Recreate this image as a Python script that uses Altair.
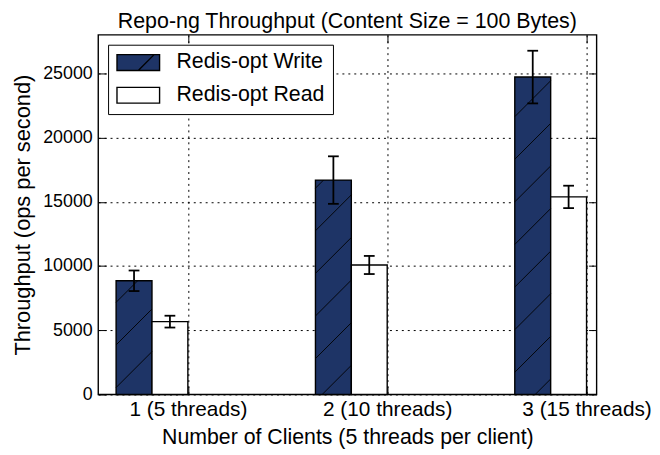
import altair as alt
import pandas as pd

# ---------------- data ----------------
clients = [1, 2, 3]
categories = ["1 (5 threads)", "2 (10 threads)", "3 (15 threads)"]
series = ["Redis-opt Write", "Redis-opt Read"]
write_vals = [8850, 16690, 24710]
write_err = [800, 1850, 2050]
read_vals = [5670, 10080, 15380]
read_err = [460, 705, 872]
y_ticks = [0, 5000, 10000, 15000, 20000, 25000]

title_text = "Repo-ng Throughput (Content Size = 100 Bytes)"
x_title = "Number of Clients (5 threads per client)"
y_title = "Throughput (ops per second)"

# ---------------- styling constants ----------------
W, H = 503, 363
X_DOM = [0.55, 3.05]
Y_DOM = [0, 28000]
BAR_W = 0.18
NAVY = "#1e3466"
FONT = "Liberation Sans"
CAP = 0.027

rows = []
for i, c in enumerate(clients):
    for s, vals, errs, off, col in [
        (series[0], write_vals, write_err, -2 * BAR_W, NAVY),
        (series[1], read_vals, read_err, -BAR_W, "white"),
    ]:
        x0 = c + off
        rows.append(dict(series=s, x0=x0, x1=x0 + BAR_W, xc=x0 + BAR_W / 2,
                         value=vals[i], base=0, lo=vals[i] - errs[i], hi=vals[i] + errs[i],
                         cl=x0 + BAR_W / 2 - CAP, cr=x0 + BAR_W / 2 + CAP,
                         fillc=col))
df = pd.DataFrame(rows)

# hatch segments ("/" pattern) inside write bars
px_per_x = W / (X_DOM[1] - X_DOM[0])
px_per_y = H / (Y_DOM[1] - Y_DOM[0])
slope = px_per_x / px_per_y
spacing = 43 / px_per_y
phase = 2460
hrows = []
for _, r in df[df.series == series[0]].iterrows():
    for n in range(-40, 40):
        b = phase + n * spacing
        x_at0 = X_DOM[0] + (0 - b) / slope
        x_atv = X_DOM[0] + (r.value - b) / slope
        xa = max(r.x0, x_at0)
        xb = min(r.x1, x_atv)
        if xa < xb:
            hrows.append(dict(hx=xa, hx2=xb,
                              hy=slope * (xa - X_DOM[0]) + b,
                              hy2=slope * (xb - X_DOM[0]) + b))
hdf = pd.DataFrame(hrows)

xs = alt.Scale(domain=X_DOM, nice=False, zero=False, padding=0)
ys = alt.Scale(domain=Y_DOM, nice=False, zero=False, padding=0)

label_expr = "[" + ",".join("'" + c + "'" for c in categories) + "][datum.value - 1]"

bars = alt.Chart(df).mark_bar(stroke="black", strokeWidth=1.4, orient="vertical").encode(
    x=alt.X("x0:Q", scale=xs, axis=alt.Axis(
        orient="bottom", values=clients, labelExpr=label_expr, grid=True,
        ticks=False, tickSize=0, domain=False, title=x_title, labelFontSize=21,
        titleFontSize=21.5, labelPadding=4, titlePadding=7, titleFontWeight="normal",
        gridDash=[2, 4], gridColor="black", gridWidth=1, labelColor="black",
        titleColor="black")),
    x2="x1:Q",
    y=alt.Y("value:Q", scale=ys, axis=alt.Axis(
        orient="left", values=y_ticks, format="d", grid=True, ticks=False, tickSize=0,
        domain=False, title=y_title, labelFontSize=18, titleFontSize=22,
        labelPadding=6, titlePadding=8, titleFontWeight="normal",
        gridDash=[2, 4], gridColor="black", gridWidth=1, labelColor="black",
        titleColor="black")),
    y2="base:Q",
    fill=alt.Fill("fillc:N", scale=None),
)

hatch = alt.Chart(hdf).mark_rule(color="black", strokeWidth=0.9).encode(
    x=alt.X("hx:Q", scale=xs, axis=None), x2="hx2:Q",
    y=alt.Y("hy:Q", scale=ys, axis=None), y2="hy2:Q",
)

err = alt.Chart(df).mark_rule(color="black", strokeWidth=1.8).encode(
    x=alt.X("xc:Q", scale=xs, axis=None),
    y=alt.Y("lo:Q", scale=ys, axis=None), y2="hi:Q",
)
cap_hi = alt.Chart(df).mark_rule(color="black", strokeWidth=1.8).encode(
    x=alt.X("cl:Q", scale=xs, axis=None), x2="cr:Q",
    y=alt.Y("hi:Q", scale=ys, axis=None),
)
cap_lo = alt.Chart(df).mark_rule(color="black", strokeWidth=1.8).encode(
    x=alt.X("cl:Q", scale=xs, axis=None), x2="cr:Q",
    y=alt.Y("lo:Q", scale=ys, axis=None),
)

path_write = "M-1,-0.372L1,-0.372L1,0.372L-1,0.372Z M0,0.372L0.744,-0.372"
path_read = "M-1,-0.372L1,-0.372L1,0.372L-1,0.372Z"

legend = alt.Legend(
    title=None, orient="top-left", offset=10, strokeColor="black", fillColor="white",
    padding=8, labelFontSize=21.5, labelFont=FONT, labelColor="black",
    symbolStrokeColor="black", symbolStrokeWidth=1.4, symbolSize=1849,
    symbolOpacity=1, clipHeight=20, rowPadding=11, labelOffset=16,
)
pts = alt.Chart(df).mark_point(filled=True, opacity=0, stroke="black").encode(
    x=alt.X("xc:Q", scale=xs, axis=None),
    y=alt.Y("value:Q", scale=ys, axis=None),
    fill=alt.Fill("series:N", scale=alt.Scale(domain=series, range=[NAVY, "white"]),
                  legend=legend),
    shape=alt.Shape("series:N", scale=alt.Scale(domain=series, range=[path_write, path_read]),
                    legend=legend),
)

tick_common = dict(labels=False, ticks=True, tickSize=8, tickColor="black", tickWidth=1,
                   domain=False, grid=False, title=None)
ticks_a = alt.Chart(df).mark_point(opacity=0).encode(
    x=alt.X("xc:Q", scale=xs, axis=alt.Axis(orient="top", offset=-H, values=clients, **tick_common)),
    y=alt.Y("value:Q", scale=ys, axis=alt.Axis(orient="right", offset=-W, values=y_ticks, **tick_common)),
)
ticks_b = alt.Chart(df).mark_point(opacity=0).encode(
    x=alt.X("xc:Q", scale=xs, axis=alt.Axis(orient="bottom", offset=-H, values=clients, **tick_common)),
    y=alt.Y("value:Q", scale=ys, axis=alt.Axis(orient="left", offset=-W, values=y_ticks, **tick_common)),
)

chart = alt.layer(bars, hatch, err, cap_hi, cap_lo, pts, ticks_a, ticks_b).resolve_axis(
    x="independent", y="independent"
).properties(
    width=W, height=H,
    title=alt.TitleParams(title_text, fontSize=21.6, font=FONT, fontWeight="normal",
                          anchor="middle", color="black", offset=2),
    padding={"left": 3, "top": 0, "right": 0, "bottom": 0},
).configure(font=FONT).configure_view(
    stroke="black", strokeWidth=1.4
).configure_axis(labelFont=FONT, titleFont=FONT)

chart.save("out.html", embed_options={"renderer": "svg", "actions": False})
